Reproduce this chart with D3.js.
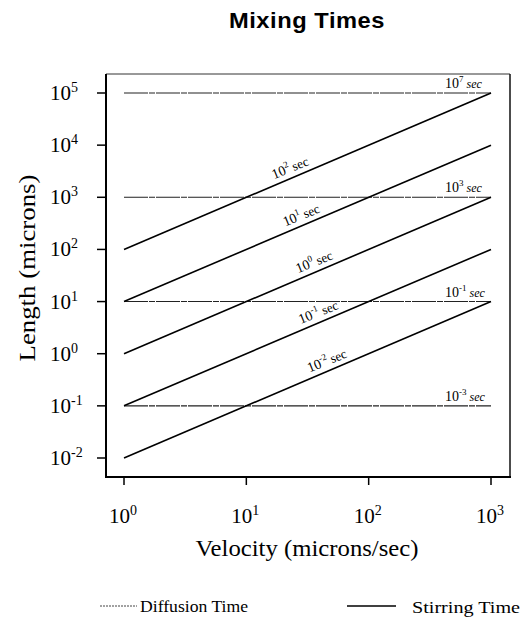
<!DOCTYPE html>
<html><head><meta charset="utf-8">
<script src="https://cdn.jsdelivr.net/npm/d3@7"></script>
<style>body{margin:0;background:#fff}svg{display:block}text{fill:#000}</style>
</head><body>
<script>
// ---- data ----
const xTickExps = [0, 1, 2, 3];
const yTickExps = [5, 4, 3, 2, 1, 0, -1, -2];
const velocityRange = [1, 1000];
const diffusionLengths = [1e5, 1e3, 1e1, 1e-1];
const diffusionLabelExps = ["7", "3", "-1", "-3"];
const stirringTimes = [1e2, 1e1, 1e0, 1e-1, 1e-2];
const stirringLabelExps = ["2", "1", "0", "-1", "-2"];
const stirringLabelVel = [23.5, 29, 37, 40, 47];

const W = 524, H = 622;
const svg = d3.select("body").append("svg").attr("width", W).attr("height", H);
const serif = "'Liberation Serif','DejaVu Serif',serif";

const x = d3.scaleLog().domain([1, 1000]).range([124, 491]);
const y = d3.scaleLog().domain([1e-2, 1e5]).range([458, 93]);
const frame = {l: 106, r: 510, t: 74, b: 477};

// title
svg.append("text").attr("x", 307).attr("y", 28).attr("text-anchor", "middle")
  .attr("font-family", "'Liberation Sans',Arial,sans-serif").attr("font-weight", "bold")
  .attr("font-size", 22).attr("letter-spacing", 0.5).attr("textLength", 156)
  .attr("lengthAdjust", "spacingAndGlyphs").text("Mixing Times");

// frame
svg.append("line").attr("x1", frame.l).attr("x2", frame.r).attr("y1", frame.t).attr("y2", frame.t).attr("stroke", "#333").attr("stroke-width", 1);
svg.append("line").attr("x1", frame.r).attr("x2", frame.r).attr("y1", frame.t).attr("y2", frame.b).attr("stroke", "#111").attr("stroke-width", 1.5);
svg.append("line").attr("x1", frame.l).attr("x2", frame.l).attr("y1", frame.t).attr("y2", frame.b + 1).attr("stroke", "#000").attr("stroke-width", 2);
svg.append("line").attr("x1", frame.l - 1).attr("x2", frame.r + 1).attr("y1", frame.b).attr("y2", frame.b).attr("stroke", "#000").attr("stroke-width", 2);

// ticks
svg.selectAll(".yt").data(yTickExps).enter().append("line")
  .attr("x1", frame.l - 9).attr("x2", frame.l).attr("y1", d => y(Math.pow(10, d))).attr("y2", d => y(Math.pow(10, d)))
  .attr("stroke", "#000").attr("stroke-width", 1.5);
svg.selectAll(".xt").data(xTickExps).enter().append("line")
  .attr("y1", frame.b).attr("y2", frame.b + 8).attr("x1", d => x(Math.pow(10, d))).attr("x2", d => x(Math.pow(10, d)))
  .attr("stroke", "#000").attr("stroke-width", 1.5);

function pow10Label(sel, exp, supSize, supDy) {
  sel.append("tspan").text("10");
  sel.append("tspan").attr("font-size", supSize).attr("dy", -supDy).text(exp);
}

yTickExps.forEach(e => {
  const t = svg.append("text").attr("x", 50).attr("y", y(Math.pow(10, e)) + 7)
    .attr("font-family", serif).attr("font-size", 21);
  pow10Label(t, e < 0 ? "-" + (-e) : String(e), 14, 8);
});
xTickExps.forEach(e => {
  const t = svg.append("text").attr("x", x(Math.pow(10, e)) - 15).attr("y", 523)
    .attr("font-family", serif).attr("font-size", 21);
  pow10Label(t, String(e), 14, 8);
});

// axis titles
svg.append("text").attr("x", 307).attr("y", 556).attr("text-anchor", "middle")
  .attr("font-family", serif).attr("font-size", 23).attr("textLength", 223)
  .attr("lengthAdjust", "spacingAndGlyphs").text("Velocity (microns/sec)");
svg.append("text").attr("transform", "translate(35,268) rotate(-90)").attr("text-anchor", "middle")
  .attr("font-family", serif).attr("font-size", 23).attr("textLength", 187)
  .attr("lengthAdjust", "spacingAndGlyphs").text("Length (microns)");

// diffusion lines
diffusionLengths.forEach((L, i) => {
  svg.append("line").attr("x1", x(velocityRange[0])).attr("x2", x(velocityRange[1]))
    .attr("y1", y(L)).attr("y2", y(L)).attr("stroke", "#222").attr("stroke-width", 1.1)
    .attr("stroke-dasharray", "24,1,6,1");
  const t = svg.append("text").attr("x", x(velocityRange[1]) - 46).attr("y", y(L) - 5)
    .attr("font-family", serif).attr("font-size", 14);
  t.append("tspan").text("10");
  t.append("tspan").attr("font-size", 9).attr("dy", -6).text(diffusionLabelExps[i]);
  t.append("tspan").attr("dy", 6).attr("font-style", "italic").attr("font-size", 12).text(" sec");
});

// stirring lines: L = v * t
const line = d3.line().x(d => x(d[0])).y(d => y(d[1]));
stirringTimes.forEach((t0, i) => {
  svg.append("path").attr("d", line(velocityRange.map(v => [v, v * t0])))
    .attr("fill", "none").attr("stroke", "#000").attr("stroke-width", 1.6);
  const v = stirringLabelVel[i];
  const px = x(v), py = y(v * t0);
  const ang = -Math.atan((y(1) - y(10)) / (x(10) - x(1))) * 180 / Math.PI + 1;
  const t = svg.append("text").attr("transform", `translate(${px},${py - 6}) rotate(${ang})`)
    .attr("text-anchor", "middle").attr("font-family", serif).attr("font-size", 14);
  t.append("tspan").text("10");
  t.append("tspan").attr("font-size", 9).attr("dy", -6).text(stirringLabelExps[i]);
  t.append("tspan").attr("dy", 6).attr("font-size", 13).text(" sec");
});

// legend
svg.append("line").attr("x1", 100).attr("x2", 137).attr("y1", 606).attr("y2", 606)
  .attr("stroke", "#444").attr("stroke-width", 1).attr("stroke-dasharray", "2,1");
svg.append("text").attr("x", 140).attr("y", 612).attr("font-family", serif).attr("font-size", 16)
  .attr("textLength", 108).attr("lengthAdjust", "spacingAndGlyphs").text("Diffusion Time");
svg.append("line").attr("x1", 347).attr("x2", 396).attr("y1", 606).attr("y2", 606)
  .attr("stroke", "#000").attr("stroke-width", 1.6);
svg.append("text").attr("x", 412).attr("y", 613).attr("font-family", serif).attr("font-size", 16)
  .attr("textLength", 108).attr("lengthAdjust", "spacingAndGlyphs").text("Stirring Time");
</script>
</body></html>
